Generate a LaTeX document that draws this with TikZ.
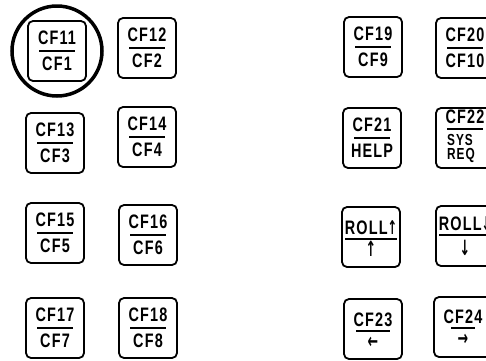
\documentclass[tikz,border=0pt]{standalone}
\usepackage{fontspec}
\newfontfamily\keyfont[FakeStretch=0.74,LetterSpace=6]{Liberation Sans}
\newfontfamily\arrowfont[FakeStretch=0.6]{DejaVu Sans}
\usetikzlibrary{positioning,calc}

\begin{document}
\begin{tikzpicture}[x=1pt,y=-1pt,
  keycap/.style={draw,rounded corners=5pt,line width=1.8pt,minimum width=58pt,minimum height=60pt,inner sep=0pt},
  keylab/.style={inner sep=0pt,font=\keyfont\bfseries\fontsize{19.5}{20}\selectfont},
  keysmall/.style={inner sep=0pt,align=left,font=\keyfont\bfseries\fontsize{16}{14}\selectfont},
  keyarrow/.style={inner sep=0pt,font=\arrowfont\bfseries\fontsize{21}{22}\selectfont},
  keyrule/.style={line width=1.5pt},
  ring/.style={draw,circle,line width=3.5pt,minimum size=90pt,inner sep=0pt}]

\useasboundingbox (0,0) rectangle (486,360);

% plain keys: top label, rule, bottom label
\foreach \n/\x/\y/\a/\b in {11/57/51/CF11/CF1, 12/147/48/CF12/CF2,
    13/55/143/CF13/CF3, 14/147/137/CF14/CF4,
    15/55/233/CF15/CF5, 16/148/235/CF16/CF6,
    17/55/328/CF17/CF7, 18/148/328/CF18/CF8,
    19/373/47/CF19/CF9, 20/465/48/CF20/CF10,
    21/372/138/CF21/HELP}{
  \node[keycap] (k\n) at (\x,\y) {};
  \node[keylab] (k\n-a) at ([yshift=13pt]k\n.center) {\a};
  \node[keylab] (k\n-b) at ([yshift=-13pt]k\n.center) {\b};
  \draw[keyrule] ([xshift=-18pt]k\n.center) -- ([xshift=18pt]k\n.center);
}

% CF22 / SYS REQ
\node[keycap] (k22) at (465,138) {};
\node[keylab] (k22-a) at ([yshift=21pt]k22.center) {CF22};
\node[keysmall,anchor=west] (k22-b) at ([xshift=-18pt,yshift=-10pt]k22.center) {SYS\\REQ};
\draw[keyrule] ([xshift=-18pt,yshift=9pt]k22.center) -- ([xshift=18pt,yshift=9pt]k22.center);

% roll and cursor keys
\foreach \n/\x/\y/\a/\b/\ya/\yr/\yb/\w in {rup/371/237/ROLL{\arrowfont\fontsize{19}{20}\selectfont↑}/↑/9/-2/-12/26,
    rdn/465/236/ROLL{\arrowfont\fontsize{19}{20}\selectfont↓}/↓/12/1/-12/26,
    23/373/329/CF23/←/9/-2/-14/17,
    24/463/327/CF24/→/10/-1/-13/12}{
  \node[keycap] (k\n) at (\x,\y) {};
  \node[keylab] (k\n-a) at ([yshift=\ya pt]k\n.center) {\a};
  \node[keyarrow] (k\n-b) at ([yshift=\yb pt]k\n.center) {\b};
  \draw[keyrule] ([xshift=-\w pt,yshift=\yr pt]k\n.center) -- ([xshift=\w pt,yshift=\yr pt]k\n.center);
}

\node[ring] (sel) at (k11) {};
\end{tikzpicture}
\end{document}
